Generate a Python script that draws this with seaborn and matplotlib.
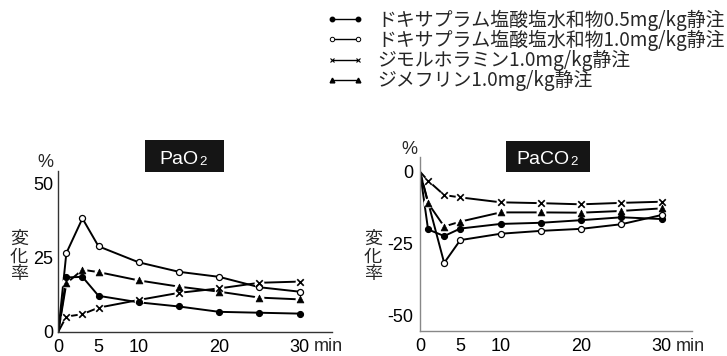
import matplotlib
matplotlib.use("Agg")
import numpy as np
import pandas as pd
import matplotlib.pyplot as plt
from matplotlib.lines import Line2D
from matplotlib.patches import Rectangle
from matplotlib.text import Annotation
import seaborn as sns

# ---- data -------------------------------------------------------------
times = [0, 1, 3, 5, 10, 15, 20, 25, 30]

series_labels = [
    "ドキサプラム塩酸塩水和物0.5mg/kg静注",
    "ドキサプラム塩酸塩水和物1.0mg/kg静注",
    "ジモルホラミン1.0mg/kg静注",
    "ジメフリン1.0mg/kg静注",
]

pao2_doxapram_05 = [0, 18.3, 18.5, 12.1, 9.9, 8.5, 6.7, 6.4, 6.1]
pao2_doxapram_10 = [0, 26.5, 38.2, 28.8, 23.4, 20.2, 18.5, 15.0, 13.5]
pao2_dimorpholamine = [0, 5.1, 5.9, 8.1, 10.7, 13.1, 14.6, 16.5, 16.9]
pao2_dimefline = [0, 16.3, 20.9, 20.1, 17.3, 15.2, 13.5, 11.5, 10.9]

paco2_doxapram_05 = [0, -20.0, -22.3, -19.7, -18.1, -17.7, -16.8, -15.8, -16.4]
paco2_doxapram_10 = [0, None, -31.6, -23.7, -21.5, -20.5, -19.8, -18.2, -15.0]
paco2_dimorpholamine = [0, -3.1, -8.1, -8.9, -10.6, -10.9, -11.3, -10.8, -10.4]
paco2_dimefline = [0, -10.9, -19.0, -17.3, -14.1, -14.1, -14.2, -13.6, -12.7]

x_ticks = [0, 5, 10, 20, 30]
pao2_ticks = [0, 25, 50]
pao2_tick_labels = ["0", "25", "50"]
paco2_ticks = [0, -25, -50]
paco2_tick_labels = ["0", "-25", "-50"]

panel_titles = [("PaO", "2"), ("PaCO", "2")]


def long_frame(values_list):
    rows = []
    for label, values in zip(series_labels, values_list):
        for t, v in zip(times, values):
            rows.append({"series": label, "time": t, "value": v})
    return pd.DataFrame(rows).dropna()


pao2_df = long_frame([pao2_doxapram_05, pao2_doxapram_10,
                      pao2_dimorpholamine, pao2_dimefline])
paco2_df = long_frame([paco2_doxapram_05, paco2_doxapram_10,
                       paco2_dimorpholamine, paco2_dimefline])

# ---- style ------------------------------------------------------------
sns.set_style("white")
plt.rcParams["font.family"] = ["Liberation Sans", "Noto Sans CJK JP", "DejaVu Sans"]
plt.rcParams["axes.unicode_minus"] = False

W, H = 727, 356
fig = plt.figure(figsize=(W / 100, H / 100), dpi=100)

TICK_SIZE = 13


def fx(px):
    return px / W


def fy(py):
    return 1 - py / H


marker_kws = [
    dict(marker="o", s=19, color="black", edgecolor="black", linewidth=0.8),
    dict(marker="o", s=19, color="white", edgecolor="black", linewidth=0.9),
    dict(marker="x", s=22, color="black", linewidth=1.2),
    dict(marker="^", s=24, color="black", edgecolor="black", linewidth=0.5),
]
halo_series = [False, False, True, True]


def draw_panel(ax, df):
    for i, label in enumerate(series_labels):
        sub = df[df["series"] == label]
        sns.lineplot(data=sub, x="time", y="value", ax=ax, color="black",
                     lw=1.4, sort=False, legend=False, zorder=2)
        pts = sub[sub["time"] > 0]
        if halo_series[i]:
            sns.scatterplot(data=pts, x="time", y="value", ax=ax, marker="o",
                            s=50, color="white", linewidth=0, legend=False,
                            zorder=3)
        sns.scatterplot(data=pts, x="time", y="value", ax=ax, legend=False,
                        zorder=4, **marker_kws[i])


def style_axes(ax, xlim, ylim, yticks, ylabels, spine_color, ypad):
    ax.set_xlim(*xlim)
    ax.set_ylim(*ylim)
    ax.set_xticks(x_ticks)
    ax.set_xticklabels([str(t) for t in x_ticks])
    ax.set_yticks(yticks)
    ax.set_yticklabels(ylabels)
    ax.set_xlabel("")
    ax.set_ylabel("")
    sns.despine(ax=ax)
    for side in ("left", "bottom"):
        ax.spines[side].set_color(spine_color)
        ax.spines[side].set_linewidth(1.0)
    ax.tick_params(axis="both", direction="in", length=4, width=0.9,
                   color=spine_color, labelcolor="black", labelsize=TICK_SIZE)
    ax.tick_params(axis="x", pad=5)
    ax.tick_params(axis="y", pad=ypad)
    ax.patch.set_alpha(0)


# ---- PaO2 panel -------------------------------------------------------
ax1 = fig.add_axes([fx(58.3), fy(331.7), fx(273.4), 161.0 / H])
draw_panel(ax1, pao2_df)
style_axes(ax1, (0, 34), (0, 54.3), pao2_ticks, pao2_tick_labels, "#333333", 3.6)

# ---- PaCO2 panel ------------------------------------------------------
ax2 = fig.add_axes([fx(420), fy(331), fx(272.3), 174.3 / H])
draw_panel(ax2, paco2_df)
style_axes(ax2, (0, 33.8), (-55.2, 5.2), paco2_ticks, paco2_tick_labels, "#888888", 4.8)

# ---- titles in black boxes -------------------------------------------
title_boxes = [(145, 140, 224, 172, 159), (506, 141, 590, 172, 516.7)]
for (x0, y0, x1, y1, tx), (main, sub) in zip(title_boxes, panel_titles):
    fig.add_artist(Rectangle((fx(x0), fy(y1)), fx(x1 - x0), (y1 - y0) / H,
                             transform=fig.transFigure, facecolor="#151515",
                             edgecolor="none", zorder=1))
    t = fig.text(fx(tx), fy(164.3), main, color="white", fontsize=14,
                 ha="left", va="baseline", family="Liberation Sans", zorder=2)
    fig.add_artist(Annotation(sub, xy=(1, 0), xycoords=t, xytext=(0.6, 0),
                              textcoords="offset points", ha="left",
                              va="bottom", color="white", fontsize=9.5,
                              family="Liberation Sans", zorder=2))

# ---- axis annotations -------------------------------------------------
fig.text(fx(45.5), fy(163), "%", ha="center", va="center", fontsize=TICK_SIZE)
fig.text(fx(409), fy(150), "%", ha="center", va="center", fontsize=TICK_SIZE)
fig.text(fx(314), fy(351.3), "min", ha="left", va="baseline", fontsize=TICK_SIZE)
fig.text(fx(675.7), fy(350.7), "min", ha="left", va="baseline", fontsize=TICK_SIZE)
for cx in (19, 373):
    fig.text(fx(cx), fy(256.5), "変\n化\n率", ha="center", va="center",
             fontsize=13, family=["Noto Sans CJK JP"], linespacing=0.95)

# ---- legend -----------------------------------------------------------
legend_marker_kws = [
    dict(marker="o", markersize=3.2, markerfacecolor="black", markeredgecolor="black"),
    dict(marker="o", markersize=3.2, markerfacecolor="white", markeredgecolor="black",
         markeredgewidth=0.7),
    dict(marker="x", markersize=3.2, markeredgecolor="black", markeredgewidth=0.8),
    dict(marker="^", markersize=3.4, markerfacecolor="black", markeredgecolor="black"),
]
handles = [Line2D([], [], color="black", lw=1.0, **kw) for kw in legend_marker_kws]
fig.legend(handles, series_labels, loc="upper left",
           bbox_to_anchor=(fx(326.7), fy(9.5)), frameon=False, borderpad=0,
           borderaxespad=0, numpoints=2, handlelength=1.95, handletextpad=0.75,
           labelspacing=-0.05,
           prop={"family": ["Noto Sans CJK JP"], "size": 13.6})

fig.savefig("out.png", dpi=100)
